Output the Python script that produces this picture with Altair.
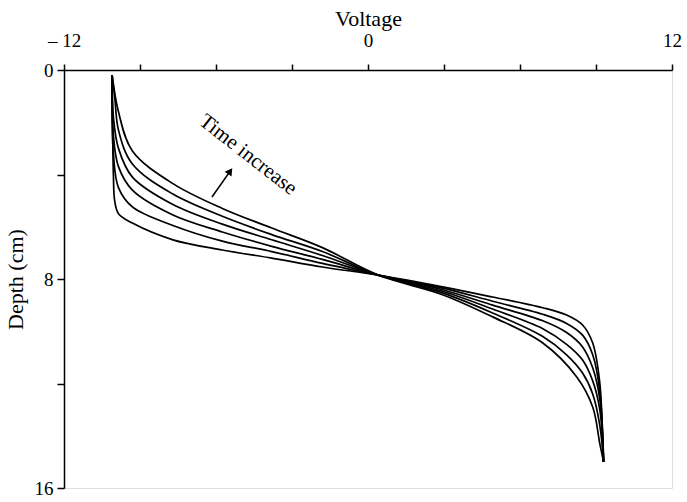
import altair as alt
import pandas as pd

# Six voltage-depth profiles (curve 1 = earliest, curve 6 = latest)
c1_v = [-10.1, -10.05, -10.0, -9.85, -9.3, -7.7, -5.75, -3.8, -1.8, 0.4, 2.94, 4.92, 6.9, 7.84, 8.47, 8.87, 9.15, 9.26, 9.3]
c1_d = [0.2, 4.0, 5.0, 5.5, 5.86, 6.5, 6.89, 7.2, 7.54, 7.85, 8.3, 8.69, 9.1, 9.38, 9.76, 10.45, 11.98, 14.05, 15.0]

c2_v = [-10.1, -10.05, -9.85, -9.3, -7.7, -5.75, -3.8, -1.8, 0.4, 2.94, 4.92, 6.9, 7.84, 8.47, 8.87, 9.15, 9.3]
c2_d = [0.2, 3.2, 4.5, 5.24, 5.95, 6.55, 6.95, 7.4, 7.85, 8.35, 8.85, 9.35, 9.7, 10.15, 10.9, 12.3, 15.0]

c3_v = [-10.1, -10.05, -9.85, -9.3, -7.7, -5.75, -3.8, -1.8, 0.4, 2.94, 4.92, 6.9, 7.84, 8.47, 8.87, 9.15, 9.3]
c3_d = [0.2, 2.5, 3.7, 4.6, 5.55, 6.2, 6.75, 7.25, 7.85, 8.41, 9.0, 9.6, 10.05, 10.6, 11.4, 12.6, 15.0]

c4_v = [-10.1, -10.05, -9.85, -9.3, -7.7, -5.75, -3.8, -1.8, 0.4, 2.94, 4.92, 6.9, 7.84, 8.47, 8.87, 9.15, 9.3]
c4_d = [0.2, 1.8, 3.0, 4.1, 5.15, 5.9, 6.5, 7.1, 7.85, 8.47, 9.15, 9.9, 10.5, 11.1, 11.9, 13.0, 15.0]

c5_v = [-10.1, -10.0, -9.85, -9.3, -7.7, -5.75, -3.8, -1.8, 0.4, 2.94, 4.92, 6.9, 7.84, 8.47, 8.87, 9.15, 9.3]
c5_d = [0.2, 1.0, 2.3, 3.6, 4.75, 5.6, 6.3, 6.95, 7.85, 8.53, 9.3, 10.2, 10.9, 11.6, 12.4, 13.6, 15.0]

c6_v = [-10.1, -9.85, -9.3, -7.7, -5.75, -3.8, -1.8, 0.4, 2.94, 4.92, 6.9, 8.24, 8.87, 9.15, 9.3]
c6_d = [0.2, 1.6, 3.1, 4.35, 5.3, 6.05, 6.8, 7.85, 8.6, 9.45, 10.45, 11.75, 12.9, 14.3, 15.0]

x_ticks = [-12, -9, -6, -3, 0, 3, 6, 9, 12]
y_ticks = [0, 4, 8, 12, 16]

curves = [(c1_v, c1_d), (c2_v, c2_d), (c3_v, c3_d), (c4_v, c4_d), (c5_v, c5_d), (c6_v, c6_d)]
rows = []
for k, (vs, ds) in enumerate(curves, start=1):
    for i, (v, d) in enumerate(zip(vs, ds)):
        rows.append({"curve": k, "voltage": v, "depth": d, "order": i})
df = pd.DataFrame(rows)

FONT = "Liberation Serif"

x_scale = alt.Scale(domain=[-12, 12], nice=False, zero=False)
y_scale = alt.Scale(domain=[0, 16], nice=False, zero=False, reverse=True)

x_axis = alt.Axis(
    orient="top", values=x_ticks, grid=False,
    labelExpr="datum.value == -12 ? '\u2013 12' : (datum.value == 0 ? '0' : (datum.value == 12 ? '12' : ''))",
    tickSize=6, tickWidth=1.5, tickColor="black",
    domainColor="black", domainWidth=1.5,
    labelFont=FONT, labelFontSize=19, labelColor="black", labelPadding=14,
    labelFlush=False, labelOverlap=False,
    title="Voltage", titleFont=FONT, titleFontSize=22, titleFontWeight="normal",
    titleColor="black", titlePadding=1,
)
y_axis = alt.Axis(
    orient="left", values=y_ticks, grid=False,
    labelExpr="datum.value == 0 ? '0' : (datum.value == 8 ? '8' : (datum.value == 16 ? '16' : ''))",
    tickSize=7, tickWidth=1.5, tickColor="black",
    domainColor="black", domainWidth=1.5,
    labelFont=FONT, labelFontSize=19, labelColor="black", labelPadding=4,
    labelFlush=False, labelOverlap=False,
    title="Depth (cm)", titleFont=FONT, titleFontSize=22, titleFontWeight="normal",
    titleColor="black", titlePadding=7,
)

lines = alt.Chart(df).mark_line(color="black", strokeWidth=1.7, interpolate="catmull-rom").encode(
    x=alt.X("voltage:Q", scale=x_scale, axis=x_axis),
    y=alt.Y("depth:Q", scale=y_scale, axis=y_axis),
    detail="curve:N",
    order="order:Q",
)

label_df = pd.DataFrame({"voltage": [-4.74], "depth": [3.25], "text": ["Time increase"]})
label = alt.Chart(label_df).mark_text(
    font=FONT, fontSize=21, angle=38, align="center", baseline="middle", color="black"
).encode(x=alt.X("voltage:Q", scale=x_scale), y=alt.Y("depth:Q", scale=y_scale), text="text:N")

arrow_df = pd.DataFrame({"v1": [-6.16], "d1": [4.86], "v2": [-5.44], "d2": [3.87]})
shaft = alt.Chart(arrow_df).mark_rule(color="black", strokeWidth=1.6).encode(
    x=alt.X("v1:Q", scale=x_scale), y=alt.Y("d1:Q", scale=y_scale),
    x2="v2:Q", y2="d2:Q",
)
head = alt.Chart(arrow_df).mark_point(
    shape="triangle-up", filled=True, color="black", size=70, angle=35, opacity=1
).encode(x=alt.X("v2:Q", scale=x_scale), y=alt.Y("d2:Q", scale=y_scale))

chart = alt.layer(lines, shaft, head, label).properties(
    width=608, height=418,
    padding={"left": 64, "top": 70, "right": 15, "bottom": 14},
    autosize="none",
).configure_view(stroke=None).configure(background="white")

chart.save("out.html", embed_options={"renderer": "svg", "actions": False})
